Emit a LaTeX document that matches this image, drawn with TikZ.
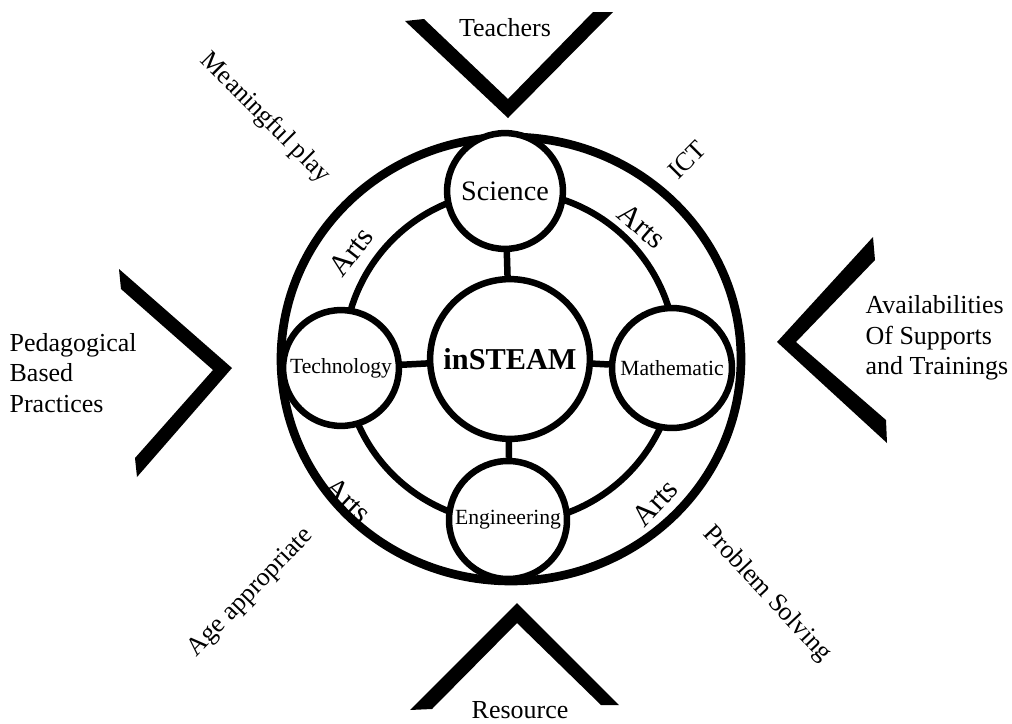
\documentclass[tikz,border=0pt]{standalone}
\usepackage{fontspec}
\setmainfont{Liberation Serif}
\usetikzlibrary{calc}

\tikzset{
    topic/.style={circle, draw, line width=3pt, fill=white, inner sep=0pt, font=\fontsize{10}{12}\selectfont},
    link/.style={line width=3pt},
    factor/.style={font=\fontsize{12}{14}\selectfont},
    arts/.style={font=\fontsize{14}{16}\selectfont},
}

\begin{document}
\begin{tikzpicture}[x=0.01623cm, y=-0.01623cm]
    % Setup
    \useasboundingbox (0,0) rectangle (1012,724);

    % Rings
    \draw[line width=4pt] (511,359) ellipse (230 and 222);
    \draw[line width=3pt] (510,357) circle (166);

    % Core and disciplines
    \node[topic, minimum size=73.8pt, font=\fontsize{14}{16}\selectfont\bfseries] (core) at (510,359) {inSTEAM};
    \node[topic, minimum size=53.5pt, font=\fontsize{13}{15}\selectfont] (sci) at (505,191) {Science};
    \node[topic, minimum size=53.5pt] (tech) at (341,368) {Technology};
    \node[topic, minimum size=55.4pt] (math) at (672,368) {Mathematic};
    \node[topic, minimum size=54.5pt] (eng) at (508,520) {Engineering};

    \foreach \n in {sci, tech, math, eng} {
        \draw[link] (core) -- (\n);
    }

    % Arts between the rings
    \node[arts, rotate=52] (artsA) at (351,252) {Arts};
    \node[arts, rotate=-41] (artsB) at (642,226) {Arts};
    \node[arts, rotate=-43] (artsC) at (348,500) {Arts};
    \node[arts, rotate=47] (artsD) at (655,503) {Arts};

    % Chevrons
    \fill (405,21) -- (508,118) -- (613,12) -- (593,12) -- (508,99) -- (424,19) -- cycle;
    \fill (410,710) -- (517,603) -- (619,705) -- (601,705) -- (517,623) -- (432,709) -- cycle;
    \fill (119,269) -- (232,368) -- (137,477) -- (135,458) -- (213,370) -- (121,289) -- cycle;
    \fill (873,237) -- (777,342) -- (887,443) -- (886,420) -- (796,342) -- (875,260) -- cycle;

    % Outer factors
    \node[factor] (teach) at (505,28) {Teachers};
    \node[factor] (res) at (520,710) {Resource};
    \node[factor, align=left, anchor=west] (peda) at (2,373) {Pedagogical\\Based\\Practices};
    \node[factor, align=left, anchor=west] (avail) at (858,338) {Availabilities\\Of Supports\\and Trainings};

    % Diagonal factors
    \node[factor, rotate=-45] (play) at (265,118) {Meaningful play};
    \node[factor, rotate=45] (ict) at (687,160) {ICT};
    \node[factor, rotate=46] (age) at (251,593) {Age appropriate};
    \node[factor, rotate=-47] (prob) at (767,594) {Problem Solving};
\end{tikzpicture}
\end{document}
